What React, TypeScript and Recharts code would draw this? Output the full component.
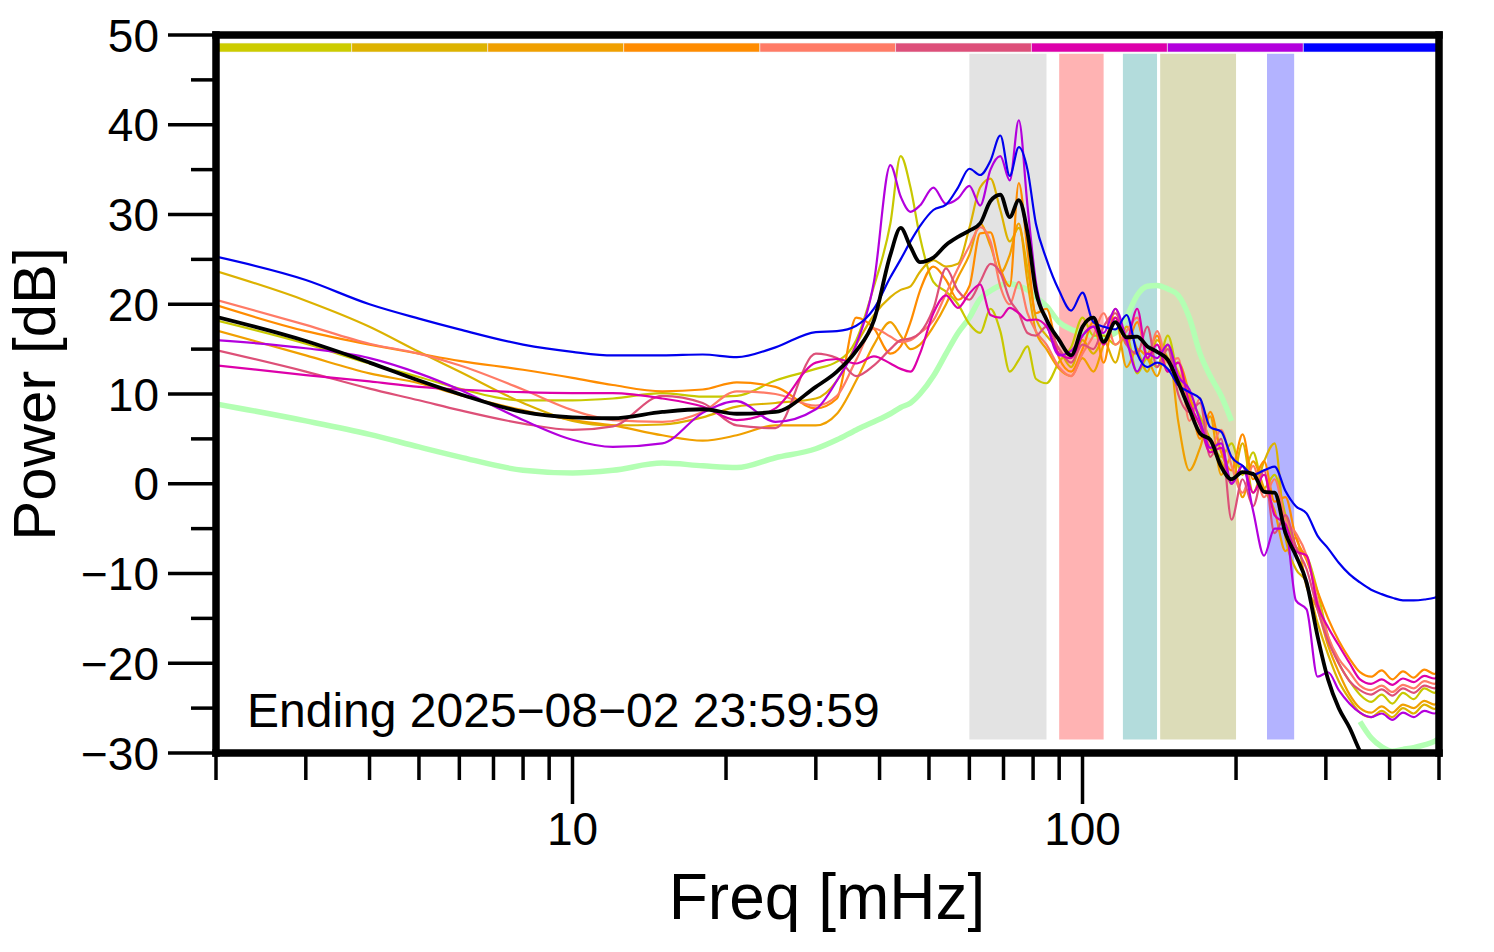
import React from 'react';
import { LineChart, Line, XAxis, YAxis, ReferenceArea } from 'recharts';

const FONT = '"Liberation Sans", Arial, Helvetica, sans-serif';

const freq = [2,3,4,5,6,8,10,12,15,18,21,25,30,33,36,39,42,44,46,48,51,54,57,60,63,66,69,72,75,78,81,85,90,95,100,105,110,116,122,128,134,140,147,154,162,170,178,187,196,206,216,227,238,250,262,275,289,303,318,334,350,368,386,405,425,446,468,490,500];

const olive = [18.2,15.6,13.4,11.9,10.6,9.3,9.3,9.5,10.1,9.7, 9.8,11.5,12.8,13.6,16.0,22.0,29.0,36.5,33.0,27.5, 22.5,21.4,20.0,17.8,16.8,19.5,17.0,12.5,13.8,15.3, 11.7,11.2,13.6,15.2,18.5,16.5,16.5,15.5,16.5,12.3, 14.0,13.0,16.5,12.0,9.5,7.5,5.0,3.0,4.5,1.0, 3.5,-0.5,1.0,-3.5,-7.0,-8.0,-12.0,-17.0,-20.0,-22.0, -23.5,-24.3,-23.5,-24.5,-23.3,-24.0,-22.8,-23.3,-22.5];
const gold = [23.7,20.4,17.5,14.7,12.5,9.0,7.0,6.5,6.6,7.4, 8.6,9.0,9.5,11.5,15.5,18.8,20.8,21.6,22.0,23.6, 24.9,24.2,24.5,28.5,33.0,34.0,30.5,27.0,28.5,24.0, 18.5,16.5,15.0,13.0,16.0,14.5,16.0,13.5,17.5,15.0, 12.5,16.0,14.0,12.5,9.0,6.5,4.0,2.5,0.0,4.5, -1.0,2.5,4.5,-6.0,-9.5,-11.0,-15.5,-19.0,-22.0,-24.0, -25.5,-26.0,-25.3,-26.0,-25.0,-25.6,-24.6,-25.1,-24.5];
const orange = [17.1,14.3,12.3,11.2,9.9,8.2,7.1,6.5,5.4,4.8, 5.4,6.5,6.5,7.8,11.5,15.5,18.0,16.5,15.0,15.5, 17.5,20.0,23.0,25.5,29.0,26.5,23.5,25.5,29.0,22.5, 17.0,15.0,12.8,12.0,14.0,12.5,15.5,18.5,13.0,15.0, 14.0,12.0,15.5,7.0,1.5,4.0,7.5,1.0,3.0,-1.5, 2.5,-0.5,-3.0,-7.5,-6.0,-11.5,-14.0,-18.0,-21.0,-23.5, -25.0,-25.5,-24.8,-25.5,-24.6,-25.0,-24.2,-24.6,-24.0];
const darkOrange = [19.9,17.0,15.5,14.5,13.7,12.7,11.8,11.0,10.3,10.5, 11.3,10.8,8.4,9.5,18.5,17.3,14.5,15.3,18.0,21.5, 24.2,22.7,20.5,22.0,27.9,28.0,24.0,22.0,33.5,26.0, 19.0,19.5,14.0,12.5,15.0,18.0,13.5,19.5,15.5,18.0, 14.5,16.5,12.5,13.5,10.0,5.0,8.0,3.5,1.5,5.5, 0.5,2.5,-2.0,-1.5,-6.0,-8.5,-12.0,-15.0,-17.5,-19.5, -21.0,-21.5,-20.8,-21.8,-20.9,-21.6,-20.7,-21.2,-20.4];
const salmon = [20.5,17.7,15.6,14.5,13.2,10.5,8.2,7.1,6.9,8.0, 10.3,10.0,8.7,9.8,13.8,17.3,16.4,15.8,16.0,16.8, 18.2,21.2,24.0,26.5,28.6,27.0,22.0,20.0,22.5,19.0, 17.0,15.5,13.0,12.0,14.5,16.5,19.0,15.5,17.0,18.5, 14.0,17.0,13.5,14.0,7.0,9.5,4.0,6.0,2.0,-1.0, 2.0,-1.5,0.5,-4.0,-5.5,-8.0,-13.0,-17.0,-19.5,-21.0, -22.5,-23.0,-22.5,-23.2,-22.4,-22.8,-22.0,-22.3,-21.7];
const rose = [14.9,12.5,10.6,9.3,8.2,6.7,6.0,6.4,9.8,9.0, 6.5,6.2,14.5,14.0,12.0,13.2,15.0,16.0,16.2,16.8, 19.5,24.0,21.5,20.5,22.5,24.5,23.5,20.5,19.0,16.8, 16.5,17.5,15.0,13.5,15.5,15.0,17.5,19.0,15.5,14.5, 17.5,13.0,15.0,10.0,8.0,9.0,3.0,5.0,-4.0,0.5, -2.5,1.5,-5.5,-3.5,-7.0,-9.5,-14.0,-17.5,-20.0,-22.0, -23.0,-23.5,-22.9,-23.6,-22.8,-23.3,-22.5,-22.8,-22.2];
const magenta = [13.2,12.1,11.4,10.8,10.5,10.2,10.1,10.1,9.5,8.6, 7.1,8.4,13.5,13.9,13.4,14.2,13.4,12.8,12.5,14.5, 19.0,21.0,19.6,21.2,22.2,18.8,18.5,19.6,19.0,18.2, 18.3,17.5,14.5,14.0,16.5,17.5,15.5,18.5,16.0,19.5, 14.0,15.5,12.5,13.5,9.0,6.5,3.5,4.0,0.0,2.0, -1.0,1.0,-3.5,-4.5,-7.5,-8.0,-13.5,-16.0,-18.0,-20.0, -21.8,-22.3,-21.8,-22.4,-21.7,-22.1,-21.4,-21.7,-21.2];
const purple = [16.0,15.1,14.0,12.3,10.5,7.1,4.9,4.1,4.5,7.9, 9.2,6.9,8.3,11.5,15.5,22.5,35.5,32.0,30.3,31.0, 33.0,31.2,31.8,33.2,31.0,35.0,36.5,33.8,40.5,31.0, 22.5,18.0,14.3,14.8,16.5,17.5,16.8,19.5,16.0,12.5, 14.5,14.0,15.5,12.0,10.5,7.0,4.0,4.5,0.0,2.0, -3.0,-8.0,-5.0,-5.0,-13.0,-14.0,-21.5,-21.0,-23.0,-24.5, -25.5,-26.0,-25.6,-26.3,-25.5,-26.0,-25.3,-25.6,-25.2];
const blue = [25.3,22.7,20.0,18.4,17.2,15.5,14.7,14.3,14.3,14.4, 14.1,15.2,16.9,17.0,17.6,19.5,23.0,25.0,27.0,28.7, 30.5,31.1,33.0,35.1,34.4,36.0,38.8,34.3,37.5,35.0, 29.0,25.0,21.5,19.3,21.3,18.0,17.5,17.2,18.8,14.5, 13.0,13.5,12.8,11.0,10.2,9.5,6.3,5.8,3.0,2.0, 1.0,1.5,1.9,-0.8,-2.5,-3.3,-5.8,-7.2,-8.8,-10.1, -11.0,-11.8,-12.3,-12.7,-13.0,-13.0,-12.9,-12.7,-12.5];
const mean = [18.6,15.9,13.5,11.5,10.0,8.0,7.4,7.3,8.0,8.3, 7.8,8.0,10.8,12.5,14.8,18.2,25.5,28.5,26.4,24.7, 25.2,26.6,27.5,28.2,29.0,31.5,32.2,29.7,31.6,28.0, 21.5,18.3,16.0,14.3,17.5,18.5,15.8,18.0,16.3,16.4, 15.3,14.7,13.8,11.3,8.3,5.6,4.9,1.9,0.5,1.3, 1.1,-0.9,-1.0,-5.5,-8.0,-11.0,-17.0,-21.8,-25.0,-27.2, -29.8,-32,-34,-34,-34,-34,-34,-34,-34];
const reference = [8.9,7.0,5.5,4.1,3.0,1.5,1.2,1.5,2.3,2.0, 1.8,2.9,3.9,4.9,6.0,6.9,7.8,8.5,9.0,10.0, 12.0,14.5,16.8,18.5,20.6,21.5,22.1,22.3,22.0,21.6, 20.8,19.8,18.0,17.2,16.8,16.5,16.4,16.8,18.6,21.0, 22.0,22.1,21.7,21.0,18.5,14.5,12.0,9.8,7.0,null, null,null,null,null,null,null,null,null,null,null, -26.5,-28.3,-29.3,-29.8,-29.6,-29.4,-29.1,-28.7,-28.4];

const seriesKeys = ['olive','gold','orange','darkOrange','salmon','rose','magenta','purple','blue'];
const seriesValues = [olive, gold, orange, darkOrange, salmon, rose, magenta, purple, blue];
const seriesColors = ['#c8c800','#dcb200','#f0a000','#ff8c00','#ff7b66','#dd5078','#dd00aa','#b300dd','#0000ee'];

const barEdges = [2, 3.69, 6.82, 12.6, 23.3, 43.0, 79.4, 146.7, 271, 500];
const barColors = ['#cccc00','#ddb300','#f0a000','#ff8c00','#ff7b66','#dd4f7a','#dd00aa','#b300dd','#0000ff'];
const barLow = 48.1;
const barHigh = 49.1;

const bandStart = [60, 90, 120, 142, 230];
const bandEnd = [85, 110, 140, 200, 260];
const bandColors = ['#e3e3e3','#ffb3b3','#b3dcdc','#dcdcb8','#b3b3ff'];
const bandLow = -28.5;
const bandHigh = 47.9;

const xTicks = [2,3,4,5,6,7,8,9,10,20,30,40,50,60,70,80,90,100,200,300,400,500];
const xLabelled = [10, 100];
const yTicks = [-30,-25,-20,-15,-10,-5,0,5,10,15,20,25,30,35,40,45,50];

const data = freq.map((f, i) => {
  const row: Record<string, number | null> = { f, mean: mean[i], reference: reference[i] };
  seriesKeys.forEach((k, j) => { row[k] = seriesValues[j][i]; });
  return row;
});

const fmt = (v: number) => (v < 0 ? '\u2212' + Math.abs(v) : String(v));

const XTick = (props: any) => {
  const { x, y, payload } = props;
  const v = payload.value;
  const major = xLabelled.includes(v);
  return (
    <g>
      <line x1={x} x2={x} y1={y} y2={y + (major ? 51 : 27)} stroke="#000" strokeWidth={3.5} />
      {major && (
        <text x={x} y={y + 92} textAnchor="middle" fontSize={46} fontFamily={FONT} fill="#000">{v}</text>
      )}
    </g>
  );
};

const YTick = (props: any) => {
  const { x, y, payload } = props;
  const v = payload.value;
  const major = v % 10 === 0;
  return (
    <g>
      <line x1={x - (major ? 48 : 25)} x2={x} y1={y} y2={y} stroke="#000" strokeWidth={3.5} />
      {major && (
        <text x={x - 57} y={y} dy="0.36em" textAnchor="end" fontSize={46} fontFamily={FONT} fill="#000">{fmt(v)}</text>
      )}
    </g>
  );
};

const frame = { stroke: '#000', strokeWidth: 7.5, strokeLinecap: 'square' as const };

export default function App() {
  return (
    <div style={{ position: 'absolute', left: 0, top: 0, background: '#fff' }}>
      <LineChart width={1494} height={952} data={data} margin={{ top: 0, right: 0, bottom: 0, left: 0 }}>
        {bandStart.map((s, i) => (
          <ReferenceArea key={'band' + i} x1={s} x2={bandEnd[i]} y1={bandLow} y2={bandHigh}
            fill={bandColors[i]} fillOpacity={1} stroke="none" ifOverflow="visible" />
        ))}
        {barColors.map((c, i) => (
          <ReferenceArea key={'bar' + i} x1={barEdges[i]} x2={barEdges[i + 1]} y1={barLow} y2={barHigh}
            fill={c} fillOpacity={1} stroke="#f4f4f4" strokeWidth={0.6} ifOverflow="visible" />
        ))}
        <XAxis dataKey="f" type="number" scale="log" domain={[2, 500]} allowDataOverflow
          ticks={xTicks} interval={0} tick={<XTick />} tickLine={false} tickSize={0} tickMargin={0}
          height={199} axisLine={frame} />
        <XAxis xAxisId="top" orientation="top" type="number" scale="log" domain={[2, 500]} allowDataOverflow
          height={35} tick={false} tickLine={false} axisLine={frame} />
        <YAxis type="number" domain={[-30, 50]} allowDataOverflow ticks={yTicks} interval={0}
          tick={<YTick />} tickLine={false} tickSize={0} tickMargin={0} width={216} axisLine={frame} />
        <YAxis yAxisId="right" orientation="right" type="number" domain={[-30, 50]} allowDataOverflow
          width={55} tick={false} tickLine={false} axisLine={frame} />
        <Line dataKey="reference" type="monotone" stroke="#b3ffb3" strokeWidth={5.5} dot={false} activeDot={false} connectNulls={false} isAnimationActive={false} />
        {seriesKeys.map((k, j) => (
          <Line key={k} dataKey={k} type="monotone" stroke={seriesColors[j]} strokeWidth={2.2} dot={false} activeDot={false} isAnimationActive={false} />
        ))}
        <Line dataKey="mean" type="monotone" stroke="#000" strokeWidth={3.8} dot={false} activeDot={false} isAnimationActive={false} />
        <text x={827} y={919} textAnchor="middle" fontSize={64} fontFamily={FONT} fill="#000">Freq [mHz]</text>
        <text x={55} y={394} textAnchor="middle" fontSize={60} fontFamily={FONT} fill="#000" transform="rotate(-90 55 394)">Power [dB]</text>
        <text x={247} y={727} fontSize={48} fontFamily={FONT} fill="#000">Ending 2025{'\u2212'}08{'\u2212'}02 23:59:59</text>
      </LineChart>
    </div>
  );
}
